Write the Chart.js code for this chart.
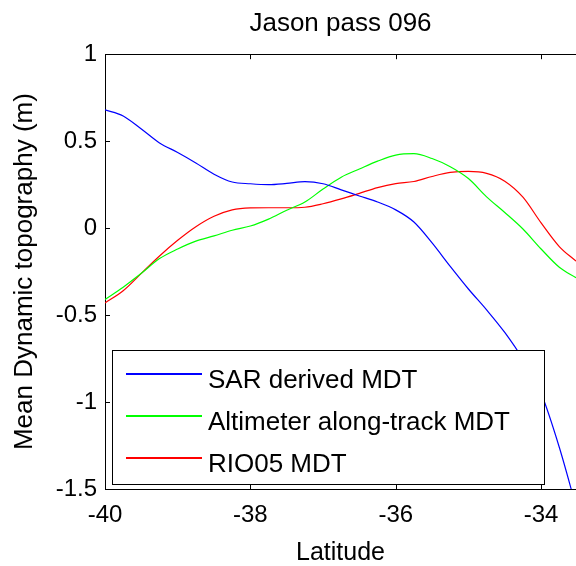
<!DOCTYPE html>
<html>
<head>
<meta charset="utf-8">
<script src="https://cdn.jsdelivr.net/npm/chart.js@4.4.1/dist/chart.umd.min.js"></script>
<style>
html,body{margin:0;padding:0;background:#fff;overflow:hidden}
#wrap{width:576px;height:566px;position:relative}
</style>
</head>
<body>
<div id="wrap"><canvas id="c" width="576" height="566"></canvas></div>
<script>
// ---- data ----
const latitude = [-40.00,-39.75,-39.50,-39.25,-39.00,-38.75,-38.50,-38.25,-38.00,-37.75,-37.50,-37.25,-37.00,-36.75,-36.50,-36.25,-36.00,-35.75,-35.50,-35.25,-35.00,-34.75,-34.50,-34.25,-34.00,-33.75,-33.52];
const sarMDT       = [0.68,0.645,0.57,0.49,0.435,0.375,0.31,0.265,0.255,0.250,0.257,0.267,0.255,0.22,0.185,0.15,0.105,0.035,-0.085,-0.22,-0.35,-0.47,-0.60,-0.755,-0.95,-1.26,-1.60];
const altimeterMDT = [-0.41,-0.34,-0.26,-0.175,-0.12,-0.075,-0.045,-0.012,0.012,0.052,0.103,0.15,0.225,0.293,0.34,0.385,0.42,0.428,0.40,0.353,0.285,0.18,0.09,-0.005,-0.12,-0.225,-0.285];
const rio05MDT     = [-0.43,-0.36,-0.26,-0.16,-0.07,0.008,0.068,0.105,0.116,0.117,0.117,0.12,0.14,0.168,0.20,0.233,0.256,0.268,0.297,0.32,0.326,0.315,0.27,0.178,0.03,-0.106,-0.19];
const seriesLabels = ['SAR derived MDT','Altimeter along-track MDT','RIO05 MDT'];
const seriesColors = ['#0000ff','#00ff00','#ff0000'];
const xTicks = [-40,-38,-36,-34];
const yTicks = [-1.5,-1,-0.5,0,0.5,1];
const titleText = 'Jason pass 096';
const xTitle = 'Latitude';
const yTitle = 'Mean Dynamic topography (m)';

const FONT = '"Liberation Sans", Arial, Helvetica, sans-serif';

function toPoints(vals){ return latitude.map((x,i)=>({x:x, y:vals[i]})); }
const seriesValues = [sarMDT, altimeterMDT, rio05MDT];

const datasets = seriesValues.map((v,i)=>({
  label: seriesLabels[i],
  data: toPoints(v),
  borderColor: seriesColors[i],
  backgroundColor: seriesColors[i],
  borderWidth: 1.2,
  pointRadius: 0,
  fill: false,
  cubicInterpolationMode: 'monotone'
}));

// MATLAB-style box legend inside the axes
const boxLegend = {
  id: 'boxLegend',
  afterDatasetsDraw(chart){
    const ctx = chart.ctx, ca = chart.chartArea;
    ctx.save();
    ctx.font = '26px ' + FONT;
    let maxW = 0;
    seriesLabels.forEach(t=>{ maxW = Math.max(maxW, ctx.measureText(t).width); });
    const left = Math.round(ca.left + 7), bottom = Math.round(ca.bottom - 5);
    const height = 134, width = Math.round(15 + 73 + 8 + maxW + 34);
    const top = bottom - height;
    ctx.fillStyle = '#ffffff';
    ctx.fillRect(left, top, width, height);
    ctx.strokeStyle = '#000000'; ctx.lineWidth = 1;
    ctx.strokeRect(left+0.5, top+0.5, width, height);
    seriesLabels.forEach((t,i)=>{
      const y = Math.round(top + 24 + i*42.2);
      ctx.fillStyle = seriesColors[i];
      ctx.fillRect(left+14, y-1, 76, 2);
      ctx.fillStyle = '#000000';
      ctx.textBaseline = 'alphabetic'; ctx.textAlign = 'left';
      ctx.fillText(t, left+96, y+14);
    });
    ctx.restore();
  }
};

// top frame line and inward tick marks
const frame = {
  id: 'frame',
  afterDraw(chart){
    const ctx = chart.ctx, ca = chart.chartArea;
    const xs = chart.scales.x, ys = chart.scales.y;
    ctx.save();
    ctx.strokeStyle = '#000000'; ctx.lineWidth = 1;
    ctx.beginPath();
    const ty = Math.round(ca.top)+0.5;
    ctx.moveTo(ca.left, ty); ctx.lineTo(ca.right, ty);
    xTicks.forEach(v=>{
      const px = Math.round(xs.getPixelForValue(v))+0.5;
      ctx.moveTo(px, ca.bottom); ctx.lineTo(px, ca.bottom-5);
      ctx.moveTo(px, ca.top); ctx.lineTo(px, ca.top+5);
    });
    yTicks.forEach(v=>{
      const py = Math.round(ys.getPixelForValue(v))+0.5;
      ctx.moveTo(ca.left, py); ctx.lineTo(ca.left+5, py);
    });
    ctx.stroke();
    ctx.restore();
  }
};

new Chart(document.getElementById('c'), {
  type: 'line',
  data: { datasets: datasets },
  plugins: [boxLegend, frame],
  options: {
    responsive: false,
    animation: false,
    devicePixelRatio: 1,
    layout: { padding: 0 },
    plugins: {
      legend: { display: false },
      tooltip: { enabled: false },
      title: {
        display: true,
        text: titleText,
        fullSize: false,
        color: '#000',
        font: { family: FONT, size: 26, weight: 'normal', lineHeight: 1.2 },
        padding: { top: 8, bottom: 15 }
      }
    },
    scales: {
      x: {
        type: 'linear',
        min: -40,
        max: -33.52,
        afterBuildTicks: s => { s.ticks = xTicks.map(v=>({value:v})); },
        afterFit: s => { s.height = 77; },
        grid: { display: false, drawTicks: false },
        border: { display: true, color: '#000', width: 1 },
        ticks: {
          color: '#000', padding: 12, maxRotation: 0, autoSkip: false,
          font: { family: FONT, size: 24 },
          callback: v => String(v)
        },
        title: {
          display: true, text: xTitle, color: '#000',
          font: { family: FONT, size: 25, lineHeight: 1 },
          padding: { top: 0, bottom: 0 }
        }
      },
      y: {
        type: 'linear',
        min: -1.5,
        max: 1,
        afterBuildTicks: s => { s.ticks = yTicks.map(v=>({value:v})); },
        afterFit: s => { s.width = 105; },
        grid: { display: false, drawTicks: false },
        border: { display: true, color: '#000', width: 1 },
        ticks: {
          color: '#000', padding: 8, autoSkip: false,
          font: { family: FONT, size: 24 },
          callback: v => String(v)
        },
        title: {
          display: true, text: yTitle, color: '#000',
          font: { family: FONT, size: 26, lineHeight: 1 },
          padding: { top: 12, bottom: 0 }
        }
      }
    }
  }
});
</script>
</body>
</html>
